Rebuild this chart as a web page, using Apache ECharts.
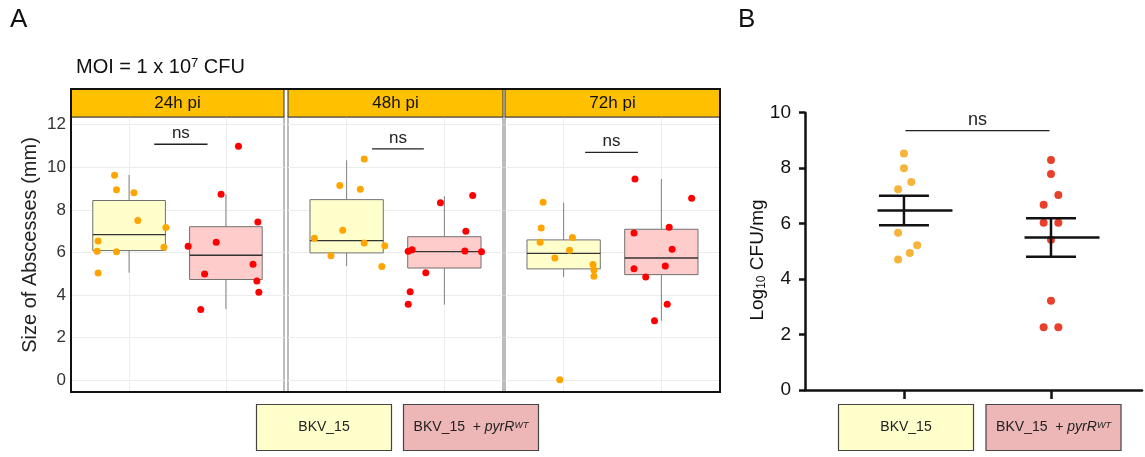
<!DOCTYPE html>
<html>
<head>
<meta charset="utf-8">
<script src="https://cdn.jsdelivr.net/npm/echarts@6/dist/echarts.min.js"></script>
<style>
  html, body { margin: 0; padding: 0; background: #fff; }
  #main { width: 1145px; height: 457px; }
</style>
</head>
<body>
<div id="main"></div>
<script>
var FONT = 'Liberation Sans, Arial, Helvetica, sans-serif';

// panel A: abscess size (mm), facets by time post infection
var facets = ['24h pi', '48h pi', '72h pi'];
var yTicksA = [0, 2, 4, 6, 8, 10, 12];

// box stats per facet: [min, q1, median, q3, max]
var boxWt  = [[5.05, 6.09, 6.84, 8.44, 9.64], [5.37, 5.98, 6.56, 8.48, 10.33], [4.85, 5.23, 5.96, 6.59, 8.34]];
var boxPyr = [[3.35, 4.73, 5.87, 7.21, 8.73], [3.55, 5.27, 6.04, 6.74, 8.64], [2.79, 4.96, 5.74, 7.09, 9.45]];

// jittered points [x, size]
var wt24  = [[0.85, 9.62], [0.87, 8.95], [1.05, 8.80], [1.09, 7.50], [1.38, 7.17], [0.68, 6.54], [0.67, 6.06], [0.87, 6.03], [1.36, 6.24], [0.68, 5.04]];
var pyr24 = [[2.13, 10.99], [1.95, 8.73], [2.33, 7.43], [1.61, 6.29], [1.90, 6.48], [2.28, 5.45], [1.78, 4.99], [2.32, 4.66], [2.34, 4.13], [1.74, 3.32]];
var wt48  = [[1.18, 10.39], [0.93, 9.15], [1.14, 8.97], [0.96, 7.04], [0.67, 6.67], [1.18, 6.45], [1.39, 6.31], [0.84, 5.85], [1.36, 5.34]];
var pyr48 = [[2.29, 8.67], [1.96, 8.34], [2.22, 7.00], [1.63, 6.06], [1.67, 6.13], [2.21, 6.07], [2.38, 6.03], [1.81, 5.05], [1.65, 4.16], [1.63, 3.57]];
var wt72  = [[0.79, 8.36], [0.77, 7.15], [0.76, 6.48], [1.09, 6.70], [1.06, 6.10], [0.91, 5.74], [1.30, 5.43], [1.31, 5.18], [1.31, 4.88], [0.96, 0.02]];
var pyr72 = [[1.73, 9.45], [2.31, 8.54], [2.08, 7.18], [1.72, 6.92], [2.11, 6.15], [2.04, 5.37], [1.72, 5.24], [1.84, 4.85], [2.06, 3.57], [1.93, 2.79]];

// ns brackets per facet: [x1, x2, y]
var nsA = [[1.26, 1.81, 11.08], [1.26, 1.79, 10.86], [1.22, 1.76, 10.70]];

// panel B: log10 CFU/mg
var yTicksB = [0, 2, 4, 6, 8, 10];
var cfuWt  = [[1.00, 8.53], [1.00, 8.00], [1.05, 7.50], [0.96, 7.24], [0.96, 5.67], [1.09, 5.22], [1.04, 4.94], [0.96, 4.71]];
var cfuPyr = [[2.00, 8.29], [2.00, 7.79], [2.05, 7.03], [1.95, 6.68], [1.95, 6.03], [2.05, 6.03], [2.00, 5.42], [2.00, 3.22], [1.95, 2.26], [2.05, 2.26]];
var nsB = [[1.01, 1.99, 9.35]];

function meanSem(pts, x) {
  var n = pts.length, s = 0, ss = 0;
  pts.forEach(function (p) { s += p[1]; });
  var m = s / n;
  pts.forEach(function (p) { ss += (p[1] - m) * (p[1] - m); });
  var sem = Math.sqrt(ss / (n - 1)) / Math.sqrt(n);
  return [x, m, m - sem, m + sem];
}

var chart = echarts.init(document.getElementById('main'));

var fills = ['#FFFFCC', '#FFCCCC'];

function renderBox(params, api) {
  var x = api.value(0);
  var hw = 0.375;
  var pMin = api.coord([x, api.value(1)]);
  var pQ1 = api.coord([x, api.value(2)]);
  var pMed = api.coord([x, api.value(3)]);
  var pQ3 = api.coord([x, api.value(4)]);
  var pMax = api.coord([x, api.value(5)]);
  var l = api.coord([x - hw, 0])[0], r = api.coord([x + hw, 0])[0];
  var fill = fills[api.value(6)];
  return {
    type: 'group',
    children: [
      { type: 'line', shape: { x1: pMin[0], y1: pMin[1], x2: pQ1[0], y2: pQ1[1] }, style: { stroke: '#808080', lineWidth: 1 } },
      { type: 'line', shape: { x1: pQ3[0], y1: pQ3[1], x2: pMax[0], y2: pMax[1] }, style: { stroke: '#808080', lineWidth: 1 } },
      { type: 'rect', shape: { x: l, y: pQ3[1], width: r - l, height: pQ1[1] - pQ3[1] }, style: { fill: fill, stroke: '#707070', lineWidth: 1 } },
      { type: 'line', shape: { x1: l, y1: pMed[1], x2: r, y2: pMed[1] }, style: { stroke: '#333', lineWidth: 1.3 } }
    ]
  };
}

function nsRenderer(size, gap, lw) {
  return function (params, api) {
    var a = api.coord([api.value(0), api.value(2)]);
    var b = api.coord([api.value(1), api.value(2)]);
    return {
      type: 'group',
      children: [
        { type: 'line', shape: { x1: a[0], y1: a[1], x2: b[0], y2: b[1] }, style: { stroke: '#222', lineWidth: lw } },
        { type: 'text', x: (a[0] + b[0]) / 2, y: a[1] - gap,
          style: { text: 'ns', fontSize: size, fontFamily: FONT, fill: '#222', align: 'center', verticalAlign: 'middle' } }
      ]
    };
  };
}

function renderMean(params, api) {
  var x = api.value(0);
  var m = api.coord([x, api.value(1)]);
  var lo = api.coord([x, api.value(2)]);
  var hi = api.coord([x, api.value(3)]);
  var ml = api.coord([x - 0.18, 0])[0], mr = api.coord([x + 0.33, 0])[0];
  var cl = api.coord([x - 0.17, 0])[0], cr = api.coord([x + 0.17, 0])[0];
  var st = { stroke: '#111', lineWidth: 2.5 };
  return {
    type: 'group',
    children: [
      { type: 'line', shape: { x1: ml, y1: m[1], x2: mr, y2: m[1] }, style: st },
      { type: 'line', shape: { x1: m[0], y1: lo[1], x2: m[0], y2: hi[1] }, style: st },
      { type: 'line', shape: { x1: cl, y1: lo[1], x2: cr, y2: lo[1] }, style: st },
      { type: 'line', shape: { x1: cl, y1: hi[1], x2: cr, y2: hi[1] }, style: st }
    ]
  };
}

var gridsA = [
  { left: 71, top: 117, width: 213, height: 275 },
  { left: 288, top: 117, width: 215, height: 275 },
  { left: 505, top: 117, width: 215, height: 275 }
];

var grid = [], xAxis = [], yAxis = [], series = [], graphic = [];
var ptsWt = [wt24, wt48, wt72], ptsPyr = [pyr24, pyr48, pyr72];

gridsA.forEach(function (g, i) {
  grid.push({ left: g.left, top: g.top, width: g.width, height: g.height, show: true,
    backgroundColor: '#fff', borderColor: '#a6a6a6', borderWidth: 1.5 });
  xAxis.push({ type: 'value', gridIndex: i, min: 0.4, max: 2.6,
    axisLine: { show: false }, axisLabel: { show: false },
    axisTick: { show: false, customValues: [1, 2] },
    splitLine: { show: true, lineStyle: { color: '#ececec', width: 1 } } });
  yAxis.push({ type: 'value', gridIndex: i, min: -0.55, max: 12.36,
    axisLine: { show: false },
    axisTick: { show: false, customValues: yTicksA },
    axisLabel: { show: i === 0, customValues: yTicksA, fontSize: 17, color: '#333', fontFamily: FONT, margin: 5 },
    splitLine: { show: true, lineStyle: { color: '#ececec', width: 1 } } });

  series.push({ type: 'custom', xAxisIndex: i, yAxisIndex: i, z: 2, renderItem: renderBox,
    data: [[1].concat(boxWt[i], [0]), [2].concat(boxPyr[i], [1])] });
  series.push({ type: 'scatter', xAxisIndex: i, yAxisIndex: i, z: 3, symbolSize: 7,
    itemStyle: { color: '#FFA500', opacity: 1 }, data: ptsWt[i] });
  series.push({ type: 'scatter', xAxisIndex: i, yAxisIndex: i, z: 3, symbolSize: 7,
    itemStyle: { color: '#FF0000', opacity: 1 }, data: ptsPyr[i] });
  series.push({ type: 'custom', xAxisIndex: i, yAxisIndex: i, z: 4, renderItem: nsRenderer(17, 11, 1.3),
    data: [nsA[i]] });

  graphic.push({ type: 'rect', shape: { x: g.left, y: 89, width: g.width, height: 28 },
    style: { fill: '#FFC000', stroke: '#333', lineWidth: 1 }, z: 10 });
  graphic.push({ type: 'text', x: g.left + g.width / 2, y: 103, z: 11,
    style: { text: facets[i], fontSize: 17, fontFamily: FONT, fill: '#111', align: 'center', verticalAlign: 'middle' } });
});

// panel B
grid.push({ left: 805, top: 112.7, width: 337, height: 277.3 });
xAxis.push({ type: 'value', gridIndex: 3, min: 0.327, max: 2.619,
  axisLine: { show: true, lineStyle: { color: '#111', width: 2.5 } },
  axisTick: { show: true, customValues: [1, 2], length: 9, lineStyle: { color: '#111', width: 2.5 } },
  axisLabel: { show: false }, splitLine: { show: false } });
yAxis.push({ type: 'value', gridIndex: 3, min: 0, max: 10, interval: 2,
  axisLine: { show: true, lineStyle: { color: '#111', width: 2.5 } },
  axisTick: { show: true, length: 6, lineStyle: { color: '#111', width: 2.5 } },
  axisLabel: { fontSize: 19, color: '#111', fontFamily: FONT, margin: 14 },
  splitLine: { show: false } });
series.push({ type: 'scatter', xAxisIndex: 3, yAxisIndex: 3, z: 3, symbolSize: 8,
  itemStyle: { color: '#F6B43C', opacity: 1 }, data: cfuWt });
series.push({ type: 'scatter', xAxisIndex: 3, yAxisIndex: 3, z: 3, symbolSize: 8,
  itemStyle: { color: '#E8402A', opacity: 1 }, data: cfuPyr });
series.push({ type: 'custom', xAxisIndex: 3, yAxisIndex: 3, z: 4, renderItem: renderMean,
  data: [meanSem(cfuWt, 1), meanSem(cfuPyr, 2)] });
series.push({ type: 'custom', xAxisIndex: 3, yAxisIndex: 3, z: 4, renderItem: nsRenderer(18, 11, 1.2),
  data: nsB });

// outer frame of panel A
graphic.push({ type: 'rect', shape: { x: 71, y: 89, width: 649, height: 303 },
  style: { fill: null, stroke: '#111', lineWidth: 2 }, z: 12 });

// texts
graphic.push({ type: 'text', x: 10, y: 20, style: { text: 'A', fontSize: 26, fontFamily: FONT, fill: '#111', verticalAlign: 'middle' } });
graphic.push({ type: 'text', x: 738, y: 20, style: { text: 'B', fontSize: 26, fontFamily: FONT, fill: '#111', verticalAlign: 'middle' } });
graphic.push({ type: 'text', x: 76, y: 67, style: { text: 'MOI = 1 x 10{sup|7} CFU', fontSize: 20, fontFamily: FONT, fill: '#111', verticalAlign: 'middle',
  rich: { sup: { fontSize: 13, fontFamily: FONT, fill: '#111', verticalAlign: 'top' } } } });
graphic.push({ type: 'text', x: 30, y: 245, rotation: Math.PI / 2,
  style: { text: 'Size of Abscesses (mm)', fontSize: 20, fontFamily: FONT, fill: '#222', align: 'center', verticalAlign: 'middle' } });
graphic.push({ type: 'text', x: 758, y: 260, rotation: Math.PI / 2,
  style: { text: 'Log{sub|10} CFU/mg', fontSize: 19, fontFamily: FONT, fill: '#111', align: 'center', verticalAlign: 'middle',
    rich: { sub: { fontSize: 12, fontFamily: FONT, fill: '#111', verticalAlign: 'bottom' } } } });

// legend boxes
function legendBox(x, fill, pyr) {
  graphic.push({ type: 'rect', shape: { x: x, y: 404.5, width: 135, height: 46 },
    style: { fill: fill, stroke: '#444', lineWidth: 1.2 } });
  graphic.push({ type: 'text', x: x + 67.5, y: 427.5,
    style: { text: pyr ? 'BKV_15  + {i|pyrR}{sup|WT}' : 'BKV_15', fontSize: 14, fontFamily: FONT, fill: '#222',
      align: 'center', verticalAlign: 'middle',
      rich: {
        i: { fontSize: 14, fontFamily: FONT, fontStyle: 'italic', fill: '#222' },
        sup: { fontSize: 9, fontFamily: FONT, fontStyle: 'italic', fill: '#222', verticalAlign: 'top' }
      } } });
}
legendBox(256.5, '#FFFFCC', false);
legendBox(403.5, '#EDB7B7', true);
legendBox(838.5, '#FFFFCC', false);
legendBox(986, '#EDB7B7', true);

option = {
  animation: false,
  grid: grid,
  xAxis: xAxis,
  yAxis: yAxis,
  series: series,
  graphic: graphic
};

chart.setOption(option);
</script>
</body>
</html>
